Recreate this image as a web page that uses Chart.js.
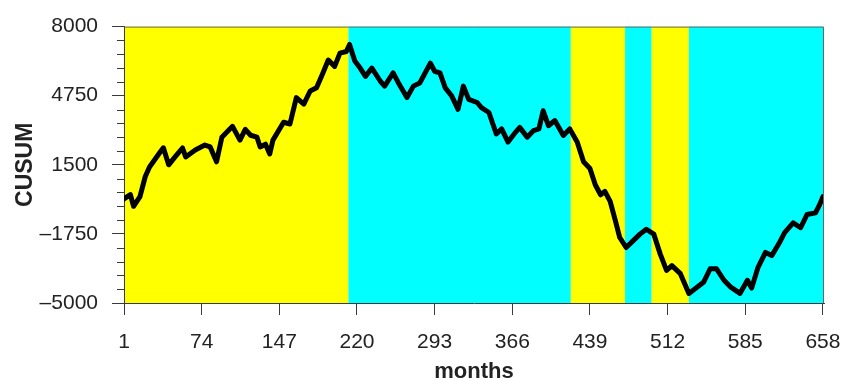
<!DOCTYPE html>
<html>
<head>
<meta charset="utf-8">
<script src="https://cdn.jsdelivr.net/npm/chart.js@4/dist/chart.umd.min.js"></script>
<style>
  html, body { margin: 0; padding: 0; background: #fff; }
</style>
</head>
<body>
<canvas id="cusumChart" width="841" height="381"></canvas>
<script>
// CUSUM values (month, value)
const months = [
  1, 7, 10, 16, 21, 25, 35, 38, 43, 49, 56, 59, 68, 77, 82, 88, 93, 103, 110, 115,
  120, 126, 129, 134, 138, 141, 151, 157, 163, 170, 176, 182, 188, 193, 199, 204, 210, 213, 218, 223,
  228, 234, 242, 246, 254, 259, 267, 273, 279, 289, 293, 298, 303, 309, 315, 320, 325, 333, 337, 344,
  351, 356, 362, 369, 373, 380, 386, 391, 395, 400, 406, 414, 420, 427, 433, 439, 444, 449, 453, 458,
  463, 467, 473, 478, 486, 492, 499, 505, 511, 516, 524, 532, 536, 546, 552, 558, 565, 571, 580, 587,
  591, 597, 604, 610, 618, 622, 630, 637, 643, 651, 655, 658
];
const cusum = [
  -100, 100, -450, 0, 950, 1400, 2100, 2300, 1500, 1870, 2290, 1870, 2200, 2430, 2340, 1640, 2800, 3310, 2660, 3170,
  2890, 2800, 2340, 2470, 2010, 2660, 3500, 3420, 4660, 4350, 4970, 5120, 5820, 6430, 6130, 6750, 6830, 7160, 6380, 6050,
  5660, 6050, 5430, 5200, 5820, 5350, 4660, 5200, 5350, 6280, 5900, 5820, 5120, 4740, 4110, 5200, 4580, 4430, 4190, 3960,
  2950, 3190, 2570, 3030, 3260, 2800, 3110, 3190, 4040, 3340, 3580, 2880, 3190, 2570, 1640, 1330, 560, 90, 250, -220,
  -1150, -1920, -2390, -2150, -1760, -1530, -1760, -2690, -3470, -3240, -3620, -4550, -4400, -4010, -3390, -3390, -3930, -4240, -4550, -3930,
  -4300, -3320, -2620, -2770, -2080, -1690, -1230, -1460, -840, -760, -360, 0
];

const xTicks = [1, 74, 147, 220, 293, 366, 439, 512, 585, 658];
const yTicks = [-5000, -1750, 1500, 4750, 8000];
const yMinorStep = 650;

// background regimes
const bandStart = [1, 212, 421, 472, 497, 532];
const bandEnd = [212, 421, 472, 497, 532, 659];
const bandColor = ["#ffff00", "#00ffff", "#ffff00", "#00ffff", "#ffff00", "#00ffff"];

const axisColor = "#3a3a3a";

// colored bands behind the curve
const bandsPlugin = {
  id: "bands",
  beforeDraw(chart) {
    const { ctx, chartArea, scales } = chart;
    ctx.save();
    bandStart.forEach((s, i) => {
      const x1 = scales.x.getPixelForValue(s);
      const x2 = scales.x.getPixelForValue(bandEnd[i]);
      ctx.fillStyle = bandColor[i];
      ctx.fillRect(x1, chartArea.top, x2 - x1, chartArea.bottom - chartArea.top);
    });
    ctx.restore();
  },
  afterDraw(chart) {
    const { ctx, chartArea, scales } = chart;
    ctx.save();
    // frame on top and right
    ctx.strokeStyle = "#666";
    ctx.lineWidth = 1;
    ctx.beginPath();
    ctx.moveTo(chartArea.left, chartArea.top + 0.5);
    ctx.lineTo(chartArea.right - 0.5, chartArea.top + 0.5);
    ctx.lineTo(chartArea.right - 0.5, chartArea.bottom);
    ctx.stroke();
    // minor ticks on the y axis
    ctx.strokeStyle = axisColor;
    ctx.beginPath();
    for (let v = yTicks[0]; v <= yTicks[yTicks.length - 1]; v += yMinorStep) {
      if (yTicks.includes(v)) continue;
      const y = Math.round(scales.y.getPixelForValue(v)) + 0.5;
      ctx.moveTo(chartArea.left - 7, y);
      ctx.lineTo(chartArea.left, y);
    }
    ctx.stroke();
    ctx.restore();
  },
};

const ctx = document.getElementById("cusumChart").getContext("2d");
const chart = new Chart(ctx, {
  type: "line",
  data: {
    datasets: [
      {
        label: "CUSUM",
        data: months.map((m, i) => ({ x: m, y: cusum[i] })),
        borderColor: "#000",
        borderWidth: 5,
        borderJoinStyle: "round",
        borderCapStyle: "round",
        pointRadius: 0,
        tension: 0,
        fill: false,
      },
    ],
  },
  options: {
    responsive: false,
    animation: false,
    layout: { padding: { top: 23, right: 17, left: 0, bottom: 0 } },
    plugins: {
      legend: { display: false },
      tooltip: { enabled: false },
    },
    scales: {
      x: {
        type: "linear",
        min: 1,
        max: 659,
        afterBuildTicks: (scale) => {
          scale.ticks = xTicks.map((v) => ({ value: v }));
        },
        afterFit: (scale) => {
          scale.height = 78;
          scale.paddingLeft = 0;
          scale.paddingRight = 0;
        },
        grid: { drawOnChartArea: false, tickLength: 12, color: axisColor },
        border: { color: axisColor, width: 1 },
        ticks: {
          color: "#222",
          padding: 15,
          maxRotation: 0,
          font: { family: "'Liberation Sans', Arial, sans-serif", size: 21 },
        },
        title: {
          display: true,
          text: "months",
          color: "#222",
          padding: { top: 0, bottom: -2 },
          font: { family: "'Liberation Sans', Arial, sans-serif", size: 22, weight: "bold", lineHeight: 1 },
        },
      },
      y: {
        min: -5000,
        max: 8000,
        afterBuildTicks: (scale) => {
          scale.ticks = yTicks.map((v) => ({ value: v }));
        },
        afterFit: (scale) => {
          scale.width = 124;
        },
        grid: { drawOnChartArea: false, tickLength: 12, color: axisColor },
        border: { color: axisColor, width: 1 },
        ticks: {
          color: "#222",
          padding: 14,
          font: { family: "'Liberation Sans', Arial, sans-serif", size: 21 },
          callback: (v) => (v < 0 ? "\u2013" + Math.abs(v) : String(v)),
        },
        title: {
          display: true,
          text: "CUSUM",
          color: "#222",
          padding: { top: 14, bottom: 0 },
          font: { family: "'Liberation Sans', Arial, sans-serif", size: 23, weight: "bold", lineHeight: 1 },
        },
      },
    },
  },
  plugins: [bandsPlugin],
});
</script>
</body>
</html>
